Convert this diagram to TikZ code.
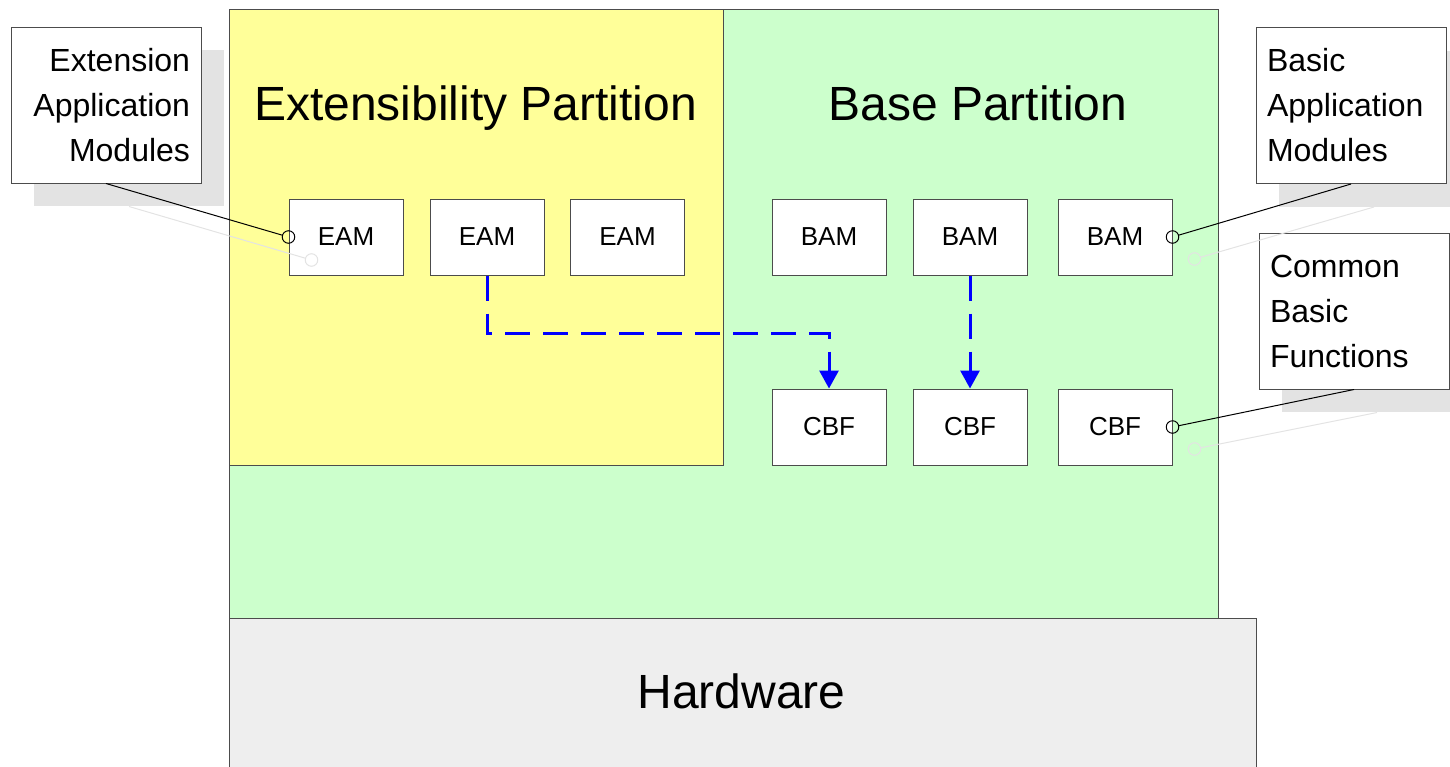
\documentclass[tikz,border=0pt]{standalone}
\usepackage{fontspec}
\setmainfont{Liberation Sans}
\usetikzlibrary{arrows.meta,shadows}
\tikzset{
  edge/.style={draw=black!70, line width=1pt},
  module/.style={edge, fill=white, minimum width=114pt, minimum height=76pt,
    inner sep=0pt, font=\fontsize{26}{26}\selectfont},
  callout/.style={edge, fill=white, minimum width=190pt, minimum height=156pt,
    inner xsep=11pt, inner ysep=0pt, text width=168pt,
    font=\fontsize{32}{45}\selectfont,
    drop shadow={shadow xshift=23pt, shadow yshift=-23pt, opacity=1, fill=black!11, draw=none}},
  shadeline/.style={draw=black!11, line width=1pt},
  pin/.style={circle, draw=black, line width=1pt, minimum size=12.5pt, inner sep=0pt},
  shadepin/.style={circle, draw=black!11, line width=1pt, minimum size=12.5pt, inner sep=0pt},
  flow/.style={draw=blue, line width=3pt, dash pattern=on 25pt off 13pt,
    -{Triangle[length=18pt,width=19pt]}},
  title/.style={font=\fontsize{48}{48}\selectfont, anchor=base, inner sep=0pt}
}
\begin{document}
\begin{tikzpicture}[x=1pt, y=-1pt]
\useasboundingbox (0,0) rectangle (1450,766);
\clip (0,0) rectangle (1450,766);

% partitions and hardware
\draw[edge, fill={rgb,255:red,204;green,255;blue,204}] (229,9) rectangle (1218,618);
\draw[edge, fill={rgb,255:red,255;green,255;blue,153}] (229,9) rectangle (723,465);
\draw[edge, fill={rgb,255:red,238;green,238;blue,238}] (229,618) rectangle (1256,790);

\node[title] (tExt) at (475.5,120) {Extensibility Partition};
\node[title] (tBase) at (978,120) {Base Partition};
\node[title] (tHw) at (741.5,708) {Hardware};

% modules
\node[module] (eam1) at (346,237) {EAM};
\node[module] (eam2) at (487,237) {EAM};
\node[module] (eam3) at (627.5,237) {EAM};
\node[module] (bam1) at (829,237) {BAM};
\node[module] (bam2) at (970,237) {BAM};
\node[module] (bam3) at (1115,237) {BAM};
\node[module] (cbf1) at (829,427) {CBF};
\node[module] (cbf2) at (970,427) {CBF};
\node[module] (cbf3) at (1115,427) {CBF};

% calls
\draw[flow] (eam2.south) -- ++(0,58) -| (cbf1.north);
\draw[flow] (bam2.south) -- (cbf2.north);

% callouts
\node[callout, align=right] (cEam) at (106,105) {Extension\\Application\\Modules};
\node[callout, align=left] (cBam) at (1351,105.5) {Basic\\Application\\Modules};
\node[callout, align=left] (cCbf) at (1354,311) {Common\\Basic\\Functions};

% callout leader shadows
\coordinate (sEam) at ([shift={(23,23)}]cEam.south);
\coordinate (sBam) at ([shift={(23,23)}]cBam.south);
\coordinate (sCbf) at ([shift={(23,23)}]cCbf.south);
\node[shadepin] (qEam) at ([shift={(23,23)}]eam1.west) {};
\node[shadepin] (qBam) at ([shift={(22,22)}]bam3.east) {};
\node[shadepin] (qCbf) at ([shift={(22,22)}]cbf3.east) {};
\draw[shadeline] (sEam) -- (qEam);
\draw[shadeline] (sBam) -- (qBam);
\draw[shadeline] (sCbf) -- (qCbf);

% callout leaders
\node[pin] (pEam) at (eam1.west) {};
\node[pin] (pBam) at (bam3.east) {};
\node[pin] (pCbf) at (cbf3.east) {};
\draw[line width=1pt] (cEam.south) -- (pEam);
\draw[line width=1pt] (cBam.south) -- (pBam);
\draw[line width=1pt] (cCbf.south) -- (pCbf);
\end{tikzpicture}
\end{document}
